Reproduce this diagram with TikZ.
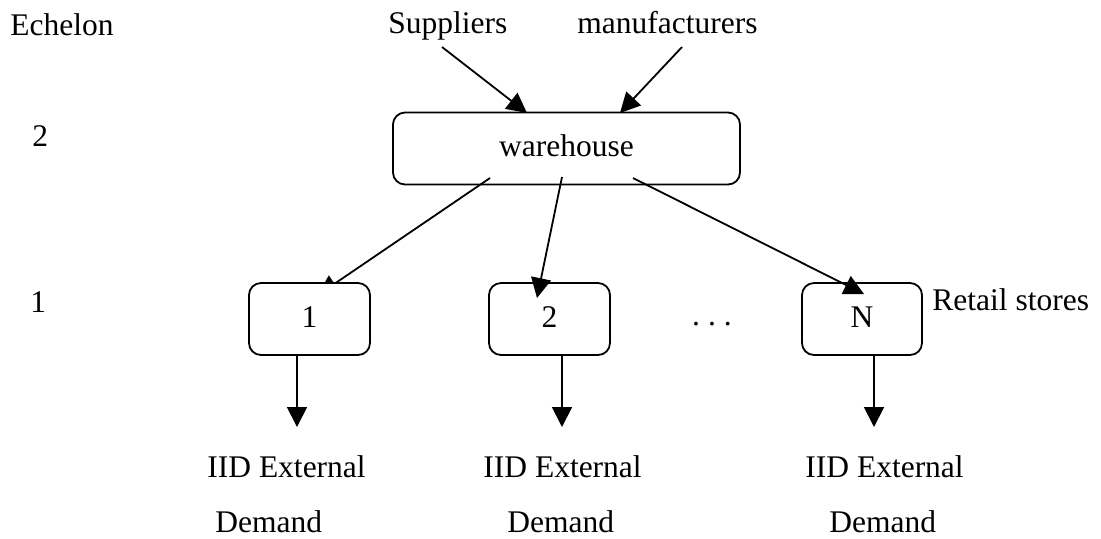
\documentclass[tikz,border=0pt]{standalone}
\usepackage{fontspec}
\setmainfont{Liberation Serif}
\usetikzlibrary{arrows.meta}
\tikzset{
  box/.style={draw=black, fill=white, rounded corners=6pt, line width=0.9pt,
    inner sep=0pt, text height=22pt, text depth=14pt},
  lbl/.style={anchor=base west, inner sep=0pt},
  arr/.style={line width=0.9pt, -{Triangle[length=10pt,width=10pt]}}
}
\begin{document}
\begin{tikzpicture}[x=0.5pt,y=-0.5pt,font=\fontsize{15.75}{19}\selectfont]
  \useasboundingbox (0,0) rectangle (1101,538);

  % echelon levels
  \node[lbl] (ech) at (10,35) {Echelon};
  \node[lbl] (lvtwo) at (32,146) {2};
  \node[lbl] (lvone) at (30,312) {1};

  % sources
  \node[lbl] (sup) at (388,33) {Suppliers};
  \node[lbl] (man) at (577,33) {manufacturers};
  \coordinate (supout) at (442,47);
  \coordinate (manout) at (682,47);
  \coordinate (whinl) at (527,113);
  \coordinate (whinr) at (620,113);

  % warehouse
  \node[box, minimum width=173.5pt] (wh) at (566.5,148.5) {warehouse};
  \coordinate (whoutl) at (490,178);
  \coordinate (whoutm) at (562,177);
  \coordinate (whoutr) at (633,178);

  % arrow under store 1
  \coordinate (sonein) at (318,295);
  \draw[arr] (whoutl) -- (sonein);

  % retail stores
  \node[box, minimum width=60.5pt] (sone) at (309.5,319) {1};
  \node[box, minimum width=60.5pt] (stwo) at (549.5,319) {2};
  \node[box, minimum width=60pt] (sn) at (862,319) {N};
  \node[anchor=base, inner sep=0pt] (dots) at (712,325) {.\hspace{4pt}.\hspace{4pt}.};
  \node[lbl] (retail) at (932,310) {Retail stores};

  \coordinate (stwoin) at (537,298);
  \coordinate (snin) at (864,294);
  \draw[arr] (supout) -- (whinl);
  \draw[arr] (manout) -- (whinr);
  \draw[arr] (whoutm) -- (stwoin);
  \draw[arr] (whoutr) -- (snin);

  % external demand
  \coordinate (soneout) at (297,355);
  \coordinate (stwoout) at (562,355);
  \coordinate (snout) at (874,355);
  \coordinate (donetip) at (297,427);
  \coordinate (dtwotip) at (562,427);
  \coordinate (dntip) at (874,427);
  \draw[arr] (soneout) -- (donetip);
  \draw[arr] (stwoout) -- (dtwotip);
  \draw[arr] (snout) -- (dntip);

  \node[lbl] (done) at (207,477) {IID External};
  \node[lbl] (dtwo) at (483,477) {IID External};
  \node[lbl] (dn) at (805,477) {IID External};
  \node[lbl] (donel) at (215,532) {Demand};
  \node[lbl] (dtwol) at (507,532) {Demand};
  \node[lbl] (dnl) at (829,532) {Demand};
\end{tikzpicture}
\end{document}
